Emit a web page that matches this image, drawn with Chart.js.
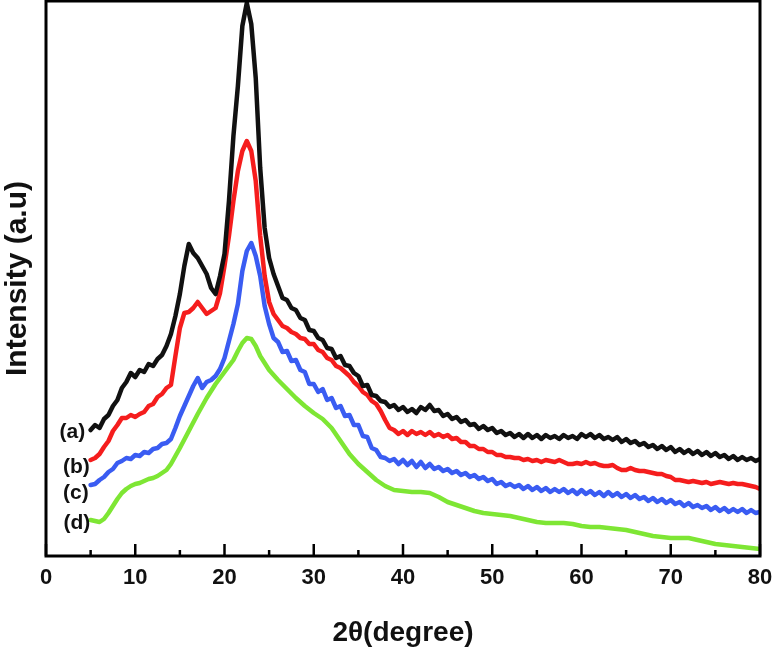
<!DOCTYPE html>
<html>
<head>
<meta charset="utf-8">
<script src="https://cdn.jsdelivr.net/npm/chart.js@4.4.1/dist/chart.umd.min.js"></script>
<style>
  html, body { margin: 0; padding: 0; background: #ffffff; }
  #wrap { width: 773px; height: 650px; }
</style>
</head>
<body>
<div id="wrap"><canvas id="c" width="773" height="650"></canvas></div>
<script>
// ---- data (2θ in degrees, intensity in arbitrary units, stacked offsets as drawn) ----
const seriesNames = ['(a)', '(b)', '(c)', '(d)'];

const seriesA = [[5,126],[5.5,131],[6,128],[6.5,137],[7,141],[7.5,150],[8,156],[8.5,168],[9,174],[9.5,183],[10,179],[10.5,186],[11,184],[11.5,192],[12,190],[12.5,197],[13,201],[13.5,210],[14,222],[14.5,240],[15,262],[15.5,290],[16,312],[16.5,303],[17,298],[17.5,290],[18,282],[18.5,268],[19,262],[19.5,280],[20,302],[20.5,355],[21,420],[21.5,470],[22,530],[22.5,553],[23,532],[23.5,478],[24,388],[24.5,328],[25,298],[25.5,282],[26,270],[26.5,258],[27,256],[27.5,248],[28,246],[28.5,238],[29,236],[29.5,226],[30,225],[30.5,218],[31,216],[31.5,208],[32,207],[32.5,198],[33,200],[33.5,191],[34,190],[34.5,183],[35,180],[35.5,170],[36,171],[36.5,161],[37,160],[37.5,155],[38,154],[38.5,149],[39,151],[39.5,146],[40,149],[40.5,144],[41,147],[41.5,143],[42,149],[42.5,146],[43,151],[43.5,145],[44,146],[44.5,140],[45,142],[45.5,137],[46,139],[46.5,134],[47,136],[47.5,131],[48,132],[48.5,127],[49,130],[49.5,126],[50,128],[50.5,123],[51,125],[51.5,121],[52,123],[52.5,119],[53,122],[53.5,118],[54,122],[54.5,118],[55,121],[55.5,117],[56,121],[56.5,118],[57,120],[57.5,117],[58,121],[58.5,118],[59,120],[59.5,117],[60,122],[60.5,119],[61,122],[61.5,118],[62,121],[62.5,117],[63,119],[63.5,116],[64,119],[64.5,114],[65,117],[65.5,113],[66,115],[66.5,111],[67,113],[67.5,109],[68,111],[68.5,107],[69,110],[69.5,106],[70,109],[70.5,104],[71,107],[71.5,103],[72,106],[72.5,102],[73,105],[73.5,101],[74,104],[74.5,100],[75,103],[75.5,99],[76,101],[76.5,97],[77,100],[77.5,96],[78,99],[78.5,96],[79,98],[79.5,95],[80,97]];

const seriesB = [[5,96],[5.5,98],[6,102],[6.5,109],[7,115],[7.5,125],[8,131],[8.5,138],[9,138],[9.5,141],[10,139],[10.5,142],[11,144],[11.5,150],[12,152],[12.5,159],[13,162],[13.5,168],[14,171],[14.5,200],[15,228],[15.5,243],[16,244],[16.5,248],[17,254],[17.5,248],[18,242],[18.5,245],[19,248],[19.5,263],[20,290],[20.5,320],[21,355],[21.5,385],[22,405],[22.5,415],[23,405],[23.5,375],[24,320],[24.5,280],[25,254],[25.5,242],[26,236],[26.5,230],[27,228],[27.5,224],[28,222],[28.5,218],[29,217],[29.5,212],[30,212],[30.5,206],[31,204],[31.5,198],[32,196],[32.5,190],[33,188],[33.5,184],[34,180],[34.5,174],[35,170],[35.5,164],[36,161],[36.5,155],[37,152],[37.5,145],[38,136],[38.5,128],[39,126],[39.5,122],[40,125],[40.5,121],[41,125],[41.5,122],[42,124],[42.5,121],[43,124],[43.5,120],[44,122],[44.5,119],[45,121],[45.5,117],[46,118],[46.5,114],[47,114],[47.5,110],[48,110],[48.5,107],[49,107],[49.5,104],[50,104],[50.5,101],[51,101],[51.5,99],[52,99],[52.5,98],[53,98],[53.5,96],[54,97],[54.5,95],[55,96],[55.5,94],[56,96],[56.5,95],[57,94],[57.5,96],[58,94],[58.5,92],[59,92],[59.5,93],[60,92],[60.5,94],[61,92],[61.5,93],[62,91],[62.5,90],[63,90],[63.5,91],[64,88],[64.5,86],[65,86],[65.5,88],[66,86],[66.5,85],[67,85],[67.5,84],[68,83],[68.5,82],[69,82],[69.5,80],[70,79],[70.5,76],[71,76],[71.5,75],[72,74],[72.5,75],[73,74],[73.5,73],[74,74],[74.5,72],[75,73],[75.5,74],[76,73],[76.5,72],[77,73],[77.5,72],[78,72],[78.5,71],[79,70],[79.5,69],[80,67]];

const seriesC = [[5,71],[5.5,72],[6,76],[6.5,79],[7,84],[7.5,87],[8,93],[8.5,95],[9,98],[9.5,97],[10,101],[10.5,100],[11,104],[11.5,103],[12,107],[12.5,108],[13,112],[13.5,113],[14,117],[14.5,128],[15,140],[15.5,150],[16,160],[16.5,170],[17,178],[17.5,168],[18,174],[18.5,176],[19,180],[19.5,187],[20,198],[20.5,215],[21,232],[21.5,252],[22,285],[22.5,305],[23,313],[23.5,300],[24,280],[24.5,250],[25,232],[25.5,218],[26,214],[26.5,204],[27,205],[27.5,195],[28,196],[28.5,186],[29,184],[29.5,172],[30,172],[30.5,164],[31,167],[31.5,156],[32,158],[32.5,148],[33,150],[33.5,140],[34,141],[34.5,131],[35,131],[35.5,120],[36,119],[36.5,108],[37,106],[37.5,99],[38,98],[38.5,95],[39,97],[39.5,92],[40,96],[40.5,91],[41,95],[41.5,89],[42,94],[42.5,88],[43,92],[43.5,87],[44,89],[44.5,85],[45,87],[45.5,83],[46,85],[46.5,81],[47,83],[47.5,79],[48,81],[48.5,77],[49,79],[49.5,75],[50,77],[50.5,72],[51,74],[51.5,70],[52,72],[52.5,69],[53,71],[53.5,67],[54,70],[54.5,66],[55,69],[55.5,65],[56,68],[56.5,64],[57,67],[57.5,64],[58,67],[58.5,63],[59,66],[59.5,62],[60,66],[60.5,62],[61,65],[61.5,61],[62,64],[62.5,60],[63,64],[63.5,60],[64,63],[64.5,59],[65,62],[65.5,58],[66,61],[66.5,57],[67,59],[67.5,55],[68,58],[68.5,54],[69,57],[69.5,53],[70,56],[70.5,52],[71,54],[71.5,50],[72,53],[72.5,49],[73,51],[73.5,48],[74,50],[74.5,46],[75,49],[75.5,45],[76,48],[76.5,44],[77,47],[77.5,44],[78,47],[78.5,43],[79,46],[79.5,43],[80,44]];

const seriesD = [[5,36],[5.5,35],[6,34],[6.5,37],[7,43],[7.5,50],[8,57],[8.5,63],[9,67],[9.5,70],[10,72],[10.5,73],[11,75],[11.5,77],[12,78],[12.5,80],[13,83],[13.5,86],[14,92],[14.5,100],[15,108],[16,125],[17,142],[18,158],[19,172],[20,184],[21,196],[21.5,205],[22,213],[22.5,218],[23,217],[23.5,210],[24,200],[24.5,193],[25,186],[26,176],[27,167],[28,158],[29,150],[30,143],[31,137],[32,128],[33,115],[34,102],[35,92],[36,84],[37,76],[38,70],[39,66],[40,65],[41,64],[42,64],[43,63],[44,59],[45,54],[46,51],[47,48],[48,45],[49,43],[50,42],[51,41],[52,40],[53,38],[54,36],[55,34],[56,33],[57,33],[58,33],[59,32],[60,30],[61,29],[62,29],[63,28],[64,27],[65,26],[66,24],[67,22],[68,20],[69,19],[70,18],[71,18],[72,18],[73,16],[74,14],[75,12],[76,11],[77,10],[78,9],[79,8],[80,7]];

const xTickValues = [0, 10, 20, 30, 40, 50, 60, 70, 80];
const xMinorTickValues = [5, 15, 25, 35, 45, 55, 65, 75];

// curve labels anchored in data coordinates
const curveLabelX = [2.95, 3.4, 3.35, 3.45];
const curveLabelY = [124, 89, 63, 33];

const colors = ['#111111', '#f51d1d', '#3a5cf2', '#7ee634'];
const FONT = "'Liberation Sans', Arial, Helvetica, sans-serif";

const allSeries = [seriesA, seriesB, seriesC, seriesD];

const framePlugin = {
  id: 'frame',
  afterDraw(chart) {
    const ctx = chart.ctx;
    const a = chart.chartArea;
    const xs = chart.scales.x;
    const ys = chart.scales.y;
    ctx.save();
    ctx.strokeStyle = '#000';
    ctx.lineWidth = 3;
    ctx.lineCap = 'square';
    ctx.strokeRect(a.left, a.top, a.right - a.left, a.bottom - a.top);
    ctx.lineWidth = 2.5;
    ctx.lineCap = 'butt';
    xTickValues.forEach(v => {
      const px = xs.getPixelForValue(v);
      ctx.beginPath(); ctx.moveTo(px, a.bottom); ctx.lineTo(px, a.bottom - 12); ctx.stroke();
    });
    xMinorTickValues.forEach(v => {
      const px = xs.getPixelForValue(v);
      ctx.beginPath(); ctx.moveTo(px, a.bottom); ctx.lineTo(px, a.bottom - 6); ctx.stroke();
    });
    ctx.fillStyle = '#111';
    ctx.font = 'bold 21px ' + FONT;
    ctx.textAlign = 'center';
    ctx.textBaseline = 'middle';
    seriesNames.forEach((n, i) => {
      ctx.fillText(n, xs.getPixelForValue(curveLabelX[i]), ys.getPixelForValue(curveLabelY[i]));
    });
    ctx.restore();
  }
};

new Chart(document.getElementById('c'), {
  type: 'line',
  data: {
    datasets: allSeries.map((s, i) => ({
      label: seriesNames[i],
      data: s.map(p => ({ x: p[0], y: p[1] })),
      borderColor: colors[i],
      borderWidth: 4.5,
      pointRadius: 0,
      fill: false,
      tension: 0,
      borderJoinStyle: 'round',
      borderCapStyle: 'round'
    }))
  },
  options: {
    responsive: false,
    animation: false,
    layout: { padding: { top: 1, right: 13, left: 0, bottom: 0 } },
    plugins: { legend: { display: false }, tooltip: { enabled: false } },
    scales: {
      x: {
        type: 'linear',
        min: 0, max: 80,
        afterFit(scale) { scale.height = 94; scale.paddingLeft = 0; scale.paddingRight = 0; },
        afterBuildTicks(scale) { scale.ticks = xTickValues.map(v => ({ value: v })); },
        grid: { display: false, drawTicks: false },
        border: { display: false },
        ticks: { color: '#111', padding: 9, font: { family: FONT, size: 22, weight: 'bold' }, maxRotation: 0 },
        title: { display: true, text: '2θ(degree)', color: '#111', padding: { top: 0, bottom: 0 },
                 font: { family: FONT, size: 28, weight: 'bold' } }
      },
      y: {
        type: 'linear',
        min: 0, max: 555,
        afterFit(scale) { scale.width = 46; scale.paddingTop = 0; scale.paddingBottom = 0; },
        grid: { display: false, drawTicks: false },
        border: { display: false },
        ticks: { display: false },
        title: { display: true, text: 'Intensity (a.u)', color: '#111', padding: { top: 0, bottom: 0 },
                 font: { family: FONT, size: 30, weight: 'bold' } }
      }
    }
  },
  plugins: [framePlugin]
});
</script>
</body>
</html>
